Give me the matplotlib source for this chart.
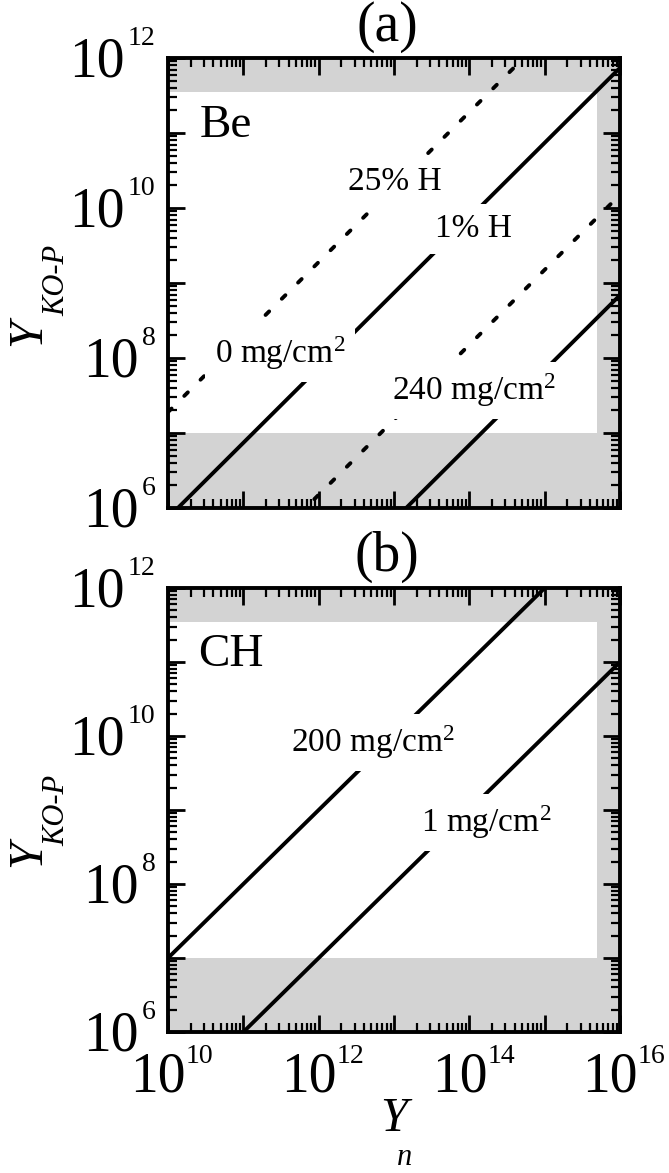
import matplotlib
matplotlib.use("Agg")
import matplotlib.pyplot as plt
from matplotlib.transforms import offset_copy

plt.rcParams['font.family'] = ['Liberation Serif', 'DejaVu Serif']
plt.rcParams['mathtext.fontset'] = 'custom'
plt.rcParams['mathtext.rm'] = 'Liberation Serif'
plt.rcParams['mathtext.it'] = 'Liberation Serif:italic'

# ---------------- data ----------------
yn_range = [1e10, 1e16]                 # neutron yield endpoints
be_0mg_1H = [7.4e5, 7.4e11]             # Be, 0 mg/cm^2, 1% H  (solid)
be_0mg_25H = [1.9e7, 1.9e13]            # Be, 0 mg/cm^2, 25% H (dotted)
be_240mg_25H = [1.5e4, 1.5e10]          # Be, 240 mg/cm^2, 25% H (dotted)
be_240mg_1H = [6.9e2, 6.9e8]            # Be, 240 mg/cm^2, 1% H (solid)
ch_200mg = [1e7, 1e13]                  # CH, 200 mg/cm^2
ch_1mg = [1e5, 1e11]                    # CH, 1 mg/cm^2

xlim = [1e10, 1e16]
ylim = [1e6, 1e12]
low_band = [1e6, 1e7]
top_band = [3.5e11, 1e12]
right_band = [5e15, 1e16]
x_label_exps = [10, 12, 14, 16]
y_label_exps = [6, 8, 10, 12]

GRAY = '#d3d3d3'
FS_BASE = 40
FS_SUP = 20
LW = 2.8

fig = plt.figure(figsize=(6.69, 11.73), dpi=100)
W, H = 669, 1173
ax_a = fig.add_axes([168 / W, 1 - 508 / H, 452 / W, 450 / H])
ax_b = fig.add_axes([168 / W, 1 - 1032 / H, 452 / W, 444 / H])


def style_axes(ax):
    ax.set_xscale('log')
    ax.set_yscale('log')
    ax.set_xlim(xlim)
    ax.set_ylim(ylim)
    ax.axhspan(*low_band, color=GRAY, lw=0, zorder=0)
    ax.axhspan(*top_band, color=GRAY, lw=0, zorder=0)
    ax.axvspan(*right_band, color=GRAY, lw=0, zorder=0)
    for s in ax.spines.values():
        s.set_linewidth(2.8)
        s.set_zorder(5)
    ax.tick_params(which='both', direction='in', top=True, right=True,
                   labelleft=False, labelbottom=False)
    ax.tick_params(which='major', length=12.5, width=2.0)
    ax.tick_params(which='minor', length=6.5, width=1.6)
    ax.xaxis.set_major_locator(matplotlib.ticker.LogLocator(base=10, numticks=20))
    ax.yaxis.set_major_locator(matplotlib.ticker.LogLocator(base=10, numticks=20))
    ax.xaxis.set_minor_locator(matplotlib.ticker.LogLocator(base=10, subs=range(2, 10), numticks=100))
    ax.yaxis.set_minor_locator(matplotlib.ticker.LogLocator(base=10, subs=range(2, 10), numticks=100))


def ylabels_pow(ax):
    tr = ax.get_yaxis_transform()
    for e in y_label_exps:
        s = str(e)
        n = len(s)
        ax.text(0, 10.0 ** e, s, fontsize=FS_SUP, ha='right', va='baseline',
                transform=offset_copy(tr, fig=fig, x=-9, y=9.5, units='points'), clip_on=False)
        ax.text(0, 10.0 ** e, '10', fontsize=FS_BASE, ha='right', va='baseline',
                transform=offset_copy(tr, fig=fig, x=-11 - n * 0.5 * FS_SUP, y=-0.33 * FS_BASE,
                                      units='points'), clip_on=False)


def xlabels_pow(ax):
    tr = ax.get_xaxis_transform()
    for e in x_label_exps:
        s = str(e)
        ax.text(10.0 ** e, 0, '10', fontsize=FS_BASE, ha='left', va='baseline',
                transform=offset_copy(tr, fig=fig, x=-27, y=-42.8, units='points'), clip_on=False)
        ax.text(10.0 ** e, 0, s, fontsize=FS_SUP, ha='left', va='baseline',
                transform=offset_copy(tr, fig=fig, x=13, y=-22.6, units='points'),
                clip_on=False)


def ylabel(ax, ypos_y, ypos_sub):
    ax.text(-0.31, ypos_y, 'Y', fontsize=35, style='italic', rotation=90,
            ha='center', va='center', transform=ax.transAxes)
    ax.text(-0.246, ypos_sub, 'KO-P', fontsize=22, style='italic', rotation=90,
            ha='center', va='center', transform=ax.transAxes)


label_box = dict(facecolor='white', edgecolor='none', pad=7)
dot_style = dict(color='black', lw=2.8, dashes=(1.3, 4.6), dash_capstyle='round', zorder=2)

# ---------------- panel (a) ----------------
style_axes(ax_a)
ax_a.plot(yn_range, be_0mg_1H, color='black', lw=LW, zorder=2)
ax_a.plot(yn_range, be_240mg_1H, color='black', lw=LW, zorder=2)
ax_a.plot(yn_range, be_0mg_25H, **dot_style)
ax_a.plot(yn_range, be_240mg_25H, **dot_style)
ax_a.text(0.071, 0.824, 'Be', fontsize=34, ha='left', va='baseline', transform=ax_a.transAxes)
ax_a.text(0.501, 0.707, '25% H', fontsize=24, ha='center', va='baseline',
          transform=ax_a.transAxes, bbox=label_box, zorder=3)
ax_a.text(0.675, 0.602, '1% H', fontsize=24, ha='center', va='baseline',
          transform=ax_a.transAxes, bbox=label_box, zorder=3)
ax_a.text(0.248, 0.322, '0 mg/cm$^2$', fontsize=24, ha='center', va='baseline',
          transform=ax_a.transAxes, bbox=label_box, zorder=3)
ax_a.text(0.677, 0.24, '240 mg/cm$^2$', fontsize=24, ha='center', va='baseline',
          transform=ax_a.transAxes, bbox=label_box, zorder=3)
ax_a.text(0.485, 1.038, '(a)', fontsize=40, ha='center', va='baseline', transform=ax_a.transAxes)
ylabels_pow(ax_a)
ylabel(ax_a, 0.39, 0.505)

# ---------------- panel (b) ----------------
style_axes(ax_b)
ax_b.plot(yn_range, ch_200mg, color='black', lw=LW, zorder=2)
ax_b.plot(yn_range, ch_1mg, color='black', lw=LW, zorder=2)
ax_b.text(0.067, 0.824, 'CH', fontsize=34, ha='left', va='baseline', transform=ax_b.transAxes)
ax_b.text(0.454, 0.63, '200 mg/cm$^2$', fontsize=24, ha='center', va='baseline',
          transform=ax_b.transAxes, bbox=label_box, zorder=3)
ax_b.text(0.703, 0.45, '1 mg/cm$^2$', fontsize=24, ha='center', va='baseline',
          transform=ax_b.transAxes, bbox=label_box, zorder=3)
ax_b.text(0.485, 1.038, '(b)', fontsize=40, ha='center', va='baseline', transform=ax_b.transAxes)
ylabels_pow(ax_b)
ylabel(ax_b, 0.403, 0.50)
xlabels_pow(ax_b)
ax_b.text(0.5, -0.196, 'Y', fontsize=35, style='italic', ha='center', va='center',
          transform=ax_b.transAxes)
ax_b.text(0.524, -0.2985, 'n', fontsize=22, style='italic', ha='center', va='baseline',
          transform=ax_b.transAxes)

fig.savefig('out.png', dpi=100)
